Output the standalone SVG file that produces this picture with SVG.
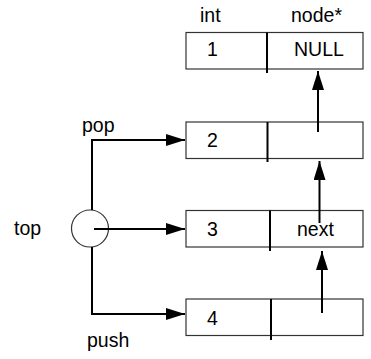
<svg xmlns="http://www.w3.org/2000/svg" width="371" height="359" viewBox="0 0 371 359">
<defs>
<style>
text{font-family:"Liberation Sans",Arial,sans-serif;font-size:19.5px;fill:#000}
.box{fill:#fff;stroke:#333;stroke-width:1.2}
.div{stroke:#000;stroke-width:2}
.c{fill:none;stroke:#000;stroke-width:2}
</style>
<marker id="ah" markerUnits="userSpaceOnUse" markerWidth="19" markerHeight="12" refX="19" refY="6" orient="auto">
<path d="M0,0 L19,6 L0,12 z" fill="#000"/>
</marker>
</defs>
<text x="200" y="22">int</text>
<text x="291" y="22">node*</text>
<g id="node1">
<rect class="box" x="186" y="32.5" width="177" height="36.5"/>
<line class="div" x1="267" y1="32.5" x2="267" y2="73"/>
<text x="207" y="56">1</text>
<text x="294" y="56">NULL</text>
</g>
<g id="node2">
<rect class="box" x="186" y="122" width="177" height="36.5"/>
<line class="div" x1="267.5" y1="122" x2="267.5" y2="162"/>
<text x="207" y="147">2</text>
</g>
<g id="node3">
<rect class="box" x="186" y="210.5" width="177" height="36.5"/>
<line class="div" x1="270" y1="210.5" x2="270" y2="251"/>
<text x="207" y="236">3</text>
<text x="297" y="236">next</text>
</g>
<g id="node4">
<rect class="box" x="186" y="299" width="177" height="36.5"/>
<line class="div" x1="271" y1="299" x2="271" y2="340"/>
<text x="207" y="325">4</text>
</g>
<g id="top">
<circle cx="90" cy="228.5" r="18.5" fill="none" stroke="#333" stroke-width="1.2"/>
<text x="14" y="235">top</text>
</g>
<g id="connectors">
<path class="c" d="M92,210 V140 H185" marker-end="url(#ah)"/>
<path class="c" d="M94,229 H185" marker-end="url(#ah)"/>
<path class="c" d="M92,247 V314 H185" marker-end="url(#ah)"/>
<path class="c" d="M318,132 V71" marker-end="url(#ah)"/>
<path class="c" d="M319.5,223 V161" marker-end="url(#ah)"/>
<path class="c" d="M322,313 V251" marker-end="url(#ah)"/>
<text x="82" y="132">pop</text>
<text x="87" y="347">push</text>
</g>
</svg>
